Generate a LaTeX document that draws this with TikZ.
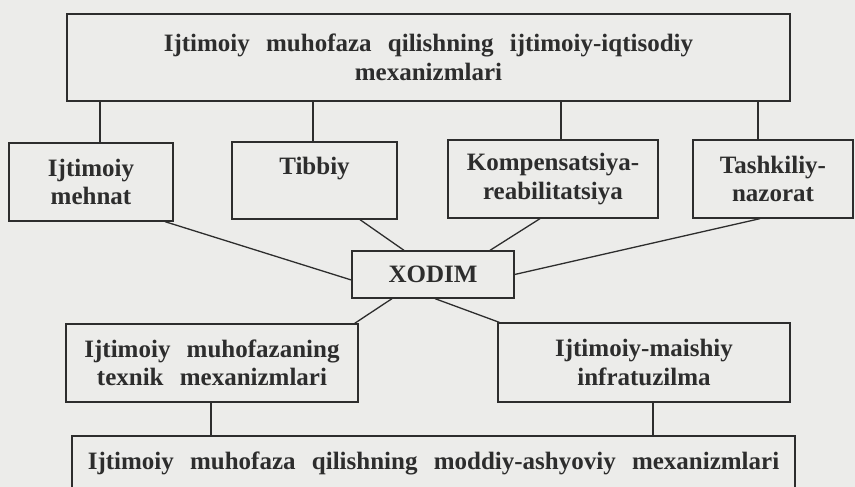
\documentclass[tikz,border=0pt]{standalone}
\usepackage{fontspec}
\setmainfont{Liberation Serif}
\usetikzlibrary{positioning}

\definecolor{paper}{RGB}{236,236,234}
\definecolor{ink}{RGB}{45,45,45}

\begin{document}
\begin{tikzpicture} [x = 1pt, y = -1pt,
    box/.style = {draw = ink, line width = 1.3pt, align = center, inner sep = 0pt,
        text = ink, font = \bfseries\fontsize{25}{28.5}\selectfont,
        execute at begin node = {\spaceskip = 0.65em plus 0.1em\relax}},
    link/.style = {draw = ink, line width = 1.3pt}]

\useasboundingbox [fill = paper] (0,0) rectangle (855,487);

\node (top) [box, minimum width = 723pt, minimum height = 87pt] at (428.5,57.5)
    {Ijtimoiy muhofaza qilishning ijtimoiy-iqtisodiy\\mexanizmlari};

\node (mehnat) [box, minimum width = 164pt, minimum height = 78pt] at (91,182) {Ijtimoiy\\mehnat};
\node (tibbiy) [box, minimum width = 165pt, minimum height = 77pt] at (314.5,180.5) {Tibbiy\\\mbox{}};
\node (komp) [box, minimum width = 210pt, minimum height = 78pt] at (553,179) {Kompensatsiya-\\reabilitatsiya};
\node (tashkil) [box, minimum width = 160pt, minimum height = 78pt] at (773,179) {Tashkiliy-\\nazorat};

\node (xodim) [box, minimum width = 162pt, minimum height = 47pt] at (433,274.5) {XODIM};

\node (texnik) [box, minimum width = 292pt, minimum height = 78pt] at (212,363)
    {Ijtimoiy muhofazaning\\texnik mexanizmlari};
\node (maishiy) [box, minimum width = 292pt, minimum height = 79pt] at (644,362.5)
    {Ijtimoiy-maishiy\\infratuzilma};

\node (moddiy) [box, minimum width = 723pt, minimum height = 54pt] at (433.5,463)
    {Ijtimoiy muhofaza qilishning moddiy-ashyoviy mexanizmlari};

% top box to the four kinds
\path [link] ([xshift = 9pt]mehnat.north) edge ([xshift = 9pt]mehnat.north |- top.south);
\path [link] ([xshift = -1.5pt]tibbiy.north) edge ([xshift = -1.5pt]tibbiy.north |- top.south);
\path [link] ([xshift = 8pt]komp.north) edge ([xshift = 8pt]komp.north |- top.south);
\path [link] ([xshift = -15pt]tashkil.north) edge ([xshift = -15pt]tashkil.north |- top.south);

% the four kinds to XODIM
\path [link] ([xshift = 74pt]mehnat.south) edge ([yshift = -5.5pt]xodim.west);
\path [link] ([xshift = 45.5pt]tibbiy.south) edge ([xshift = -29pt]xodim.north);
\path [link] ([xshift = -13pt]komp.south) edge ([xshift = 57pt]xodim.north);
\path [link] ([xshift = -13pt]tashkil.south) edge (xodim.east);

% XODIM down
\path [link] ([xshift = -41pt]xodim.south) edge ([xshift = -4pt]texnik.north east);
\path [link] ([xshift = 2pt]xodim.south) edge ([xshift = 2pt]maishiy.north west);

\path [link] ([xshift = -1pt]texnik.south) edge ([xshift = -1pt]texnik.south |- moddiy.north);
\path [link] ([xshift = 9pt]maishiy.south) edge ([xshift = 9pt]maishiy.south |- moddiy.north);

\end{tikzpicture}
\end{document}
